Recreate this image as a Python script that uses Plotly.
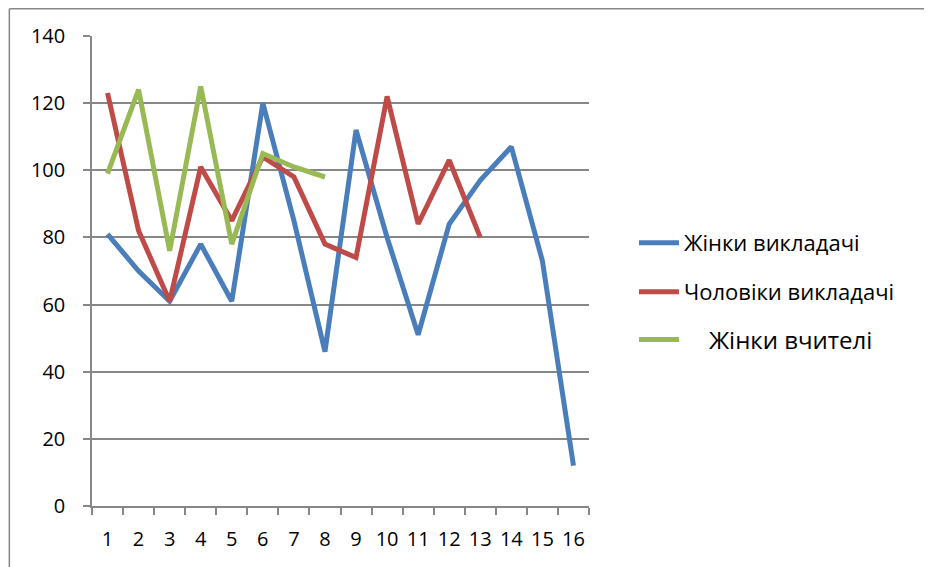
import plotly.graph_objects as go

categories = [str(i) for i in range(1, 17)]
women_lecturers = [81, 70, 61, 78, 61, 120, 85, 46, 112, 80, 51, 84, 97, 107, 73, 12]
men_lecturers = [123, 82, 61, 101, 85, 104, 98, 78, 74, 122, 84, 103, 80]
women_teachers = [99, 124, 76, 125, 78, 105, 101, 98]

names = ["Жінки викладачі", "Чоловіки викладачі", "    Жінки вчителі"]
colors = ["#4A7EBB", "#BE4B48", "#98B954"]
series = [women_lecturers, men_lecturers, women_teachers]

# page body has an 8px margin, so figure coords = screen coords - 8
OFF = 8
W, H = 932, 567
L, R, T, B = 91.5 - OFF, 589 - OFF, 36 - OFF, 506 - OFF
pw, ph = R - L, B - T

fig = go.Figure()
legend_keys = ["legend", "legend2", "legend3"]
for vals, name, col, lk in zip(series, names, colors, legend_keys):
    fig.add_trace(go.Scatter(
        x=categories[:len(vals)], y=vals, mode="lines", name=name,
        line=dict(color=col, width=5), legend=lk,
    ))

font_family = "Open Sans, Liberation Sans, sans-serif"
grid = "#878787"

def px2paper_x(px):
    return (px - OFF - L) / pw

def px2paper_y(py):
    return (B - (py - OFF)) / ph

legend_ys = [243, 292, 340]
legend_sizes = [22, 22, 24]
layout_legends = {}
for lk, ly, fs in zip(legend_keys, legend_ys, legend_sizes):
    layout_legends[lk] = dict(
        x=px2paper_x(634), y=px2paper_y(ly),
        font=dict(family=font_family, size=fs, color="#000000"),
        bgcolor="rgba(0,0,0,0)", xanchor="left", yanchor="middle", itemwidth=40,
    )

fig.update_layout(
    width=W, height=H,
    margin=dict(l=L, r=W - R, t=T, b=H - B, pad=0, autoexpand=False),
    paper_bgcolor="white", plot_bgcolor="white",
    showlegend=True,
    font=dict(family=font_family, size=20, color="#000000"),
    xaxis=dict(
        type="category", categoryorder="array", categoryarray=categories,
        range=[-0.5, 15.5],
        showline=True, linecolor=grid, linewidth=1.5,
        ticks="outside", tickson="boundaries", ticklen=7, tickcolor=grid, tickwidth=1.5,
        showgrid=False, tickfont=dict(size=20), tickangle=0, ticklabelstandoff=14,
    ),
    yaxis=dict(
        range=[0, 140], dtick=20, tick0=0,
        showline=True, linecolor=grid, linewidth=1.5,
        ticks="outside", ticklen=7, tickcolor=grid, tickwidth=1.5,
        showgrid=True, gridcolor=grid, gridwidth=1.5,
        zeroline=False, tickfont=dict(size=20), ticklabelstandoff=14,
    ),
    shapes=[
        dict(type="line", xref="paper", yref="paper",
             x0=px2paper_x(8.75), x1=px2paper_x(8.75), y0=px2paper_y(8.75), y1=px2paper_y(600),
             line=dict(color=grid, width=1.5)),
        dict(type="line", xref="paper", yref="paper",
             x0=px2paper_x(8.75), x1=px2paper_x(940), y0=px2paper_y(8.75), y1=px2paper_y(8.75),
             line=dict(color=grid, width=1.5)),
    ],
    **layout_legends,
)

fig.write_html("out.html")
